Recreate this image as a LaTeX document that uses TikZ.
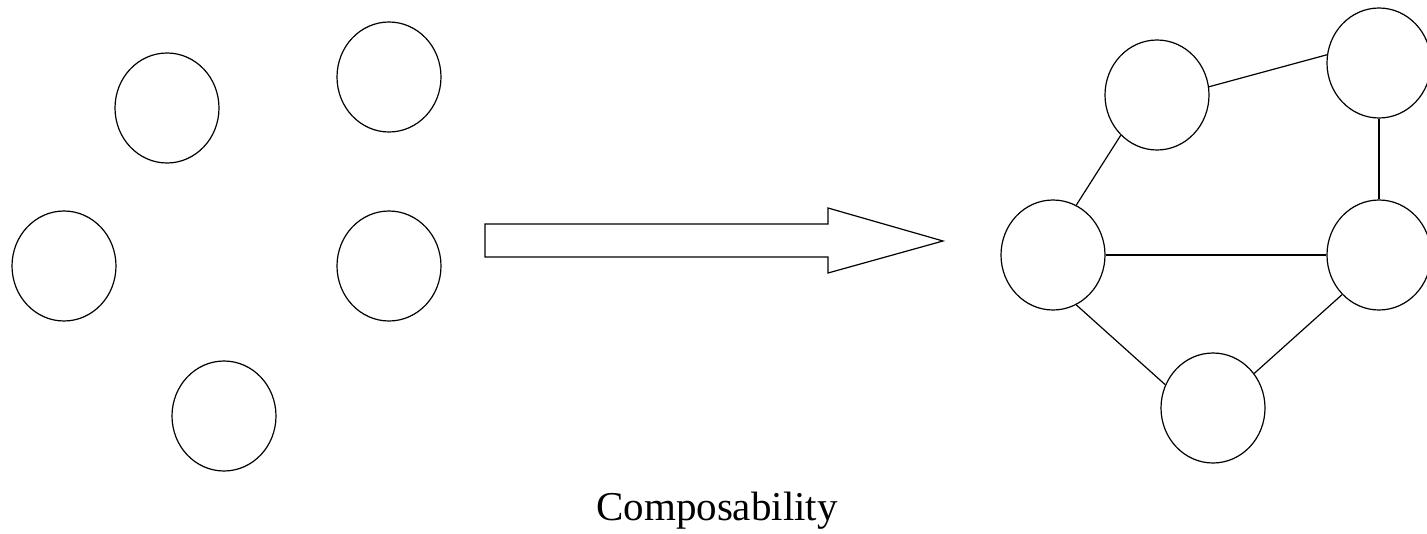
\documentclass[tikz,border=0pt]{standalone}
\usepackage{fontspec}
\setmainfont{Liberation Serif}
\usepackage{tikz}
\usetikzlibrary{shapes.geometric}

\begin{document}
\begin{tikzpicture}[
  x=1pt, y=-1pt,
  blob/.style={ellipse, draw=black, line width=1.2pt, inner sep=0pt,
               minimum width=104pt, minimum height=110pt},
  link/.style={line width=1.2pt, color=black},
  caption/.style={font=\fontsize{41}{49}\selectfont, anchor=base}
]
\useasboundingbox (0,0) rectangle (1427,533);

% loose parts
\node[blob] (p1) at (167,108) {};
\node[blob] (p2) at (389,77) {};
\node[blob] (p3) at (64,266) {};
\node[blob] (p4) at (389,266) {};
\node[blob] (p5) at (224,416) {};

% block arrow
\draw[link, line join=miter] (485,224) -- (828,224) -- (828,208) -- (943,241)
  -- (828,273) -- (828,257) -- (485,257) -- cycle;

% composed graph
\node[blob] (a) at (1157,95) {};
\node[blob] (b) at (1379,63) {};
\node[blob] (c) at (1053,255) {};
\node[blob] (d) at (1379,255) {};
\node[blob] (e) at (1213,408) {};

\draw[link] (a.9) -- (b.171);
\draw[link] (b.south) -- (d.north);
\draw[link] (c.65) -- (a.228);
\draw[link] (c.east) -- (d.west);
\draw[link] (c.-65) -- (e.154);
\draw[link] (e.40) -- (d.227);

\node[caption] (cap) at (717,520) {Composability};
\end{tikzpicture}
\end{document}
